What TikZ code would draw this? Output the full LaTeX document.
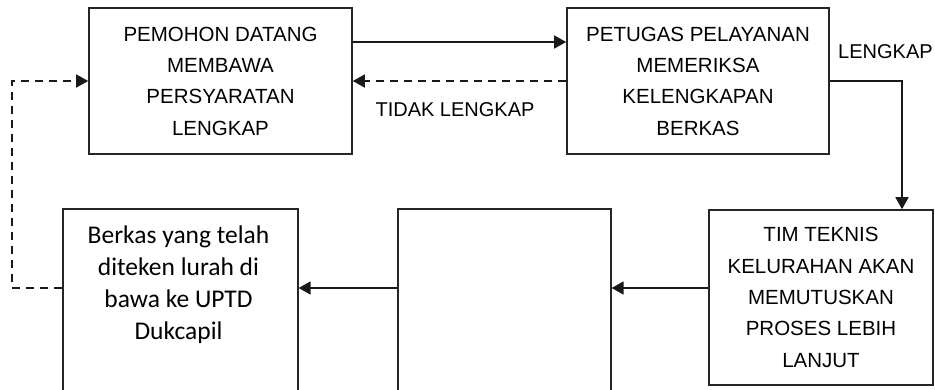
\documentclass[tikz,border=0pt]{standalone}
\usepackage{fontspec}
\setmainfont{Liberation Sans}
\newfontfamily\carl{Carlito}
\usetikzlibrary{arrows.meta}
\begin{document}
\begin{tikzpicture}[x=1pt,y=-1pt,
  box/.style={draw=black!85,line width=1.6pt,inner sep=0pt,align=center,
    font=\fontsize{20.5}{31.3}\selectfont},
  conn/.style={draw=black!90,line width=1.5pt},
  arr/.style={conn,-{Triangle[length=12pt,width=13pt]}},
  darr/.style={arr,dash pattern=on 8pt off 6pt},
  lbl/.style={inner sep=0pt,font=\fontsize{20}{24}\selectfont}]
\useasboundingbox (0,0) rectangle (935,389);
% top row
\node[box,minimum width=263pt,minimum height=146pt] (b1) at (220.5,81)
  {PEMOHON DATANG\\MEMBAWA\\PERSYARATAN\\LENGKAP};
\node[box,minimum width=262pt,minimum height=146pt] (b2) at (698,81)
  {PETUGAS PELAYANAN\\MEMERIKSA\\KELENGKAPAN\\BERKAS};
% bottom row
\node[box,minimum width=224pt,minimum height=175pt] (b3) at (821,297.5)
  {TIM TEKNIS\\KELURAHAN AKAN\\MEMUTUSKAN\\PROSES LEBIH\\LANJUT};
\node[box,minimum width=213pt,minimum height=200pt,anchor=north west] (mid) at (397,208) {};
\node[box,minimum width=235pt,minimum height=200pt,anchor=north west] (b4) at (62,208) {};
\node[inner sep=0pt,align=center,font=\carl\fontsize{25.5}{32}\selectfont] (b4t) at (178.5,285)
  {Berkas yang telah\\diteken lurah di\\bawa ke UPTD\\Dukcapil};
% labels
\node[lbl] (tl) at (455,110) {TIDAK LENGKAP};
\node[lbl,anchor=west] (lk) at (838,52) {LENGKAP};
% helper coordinates
\coordinate (top) at (0,42);
\coordinate (ah) at (0,288);
\coordinate (c1) at (902,81);
\coordinate (fb) at (12,81);
% connectors
\draw[arr] (b1.east |- top) -- (b2.west |- top);
\draw[darr] (b2.west) -- (b1.east);
\draw[arr] (b2.east) -| (c1 |- b3.north);
\draw[arr] (b3.west |- ah) -- (mid.east |- ah);
\draw[arr] (mid.west |- ah) -- (b4.east |- ah);
\draw[darr] (b4.west |- ah) -| (fb) -- (b1.west);
\end{tikzpicture}
\end{document}
